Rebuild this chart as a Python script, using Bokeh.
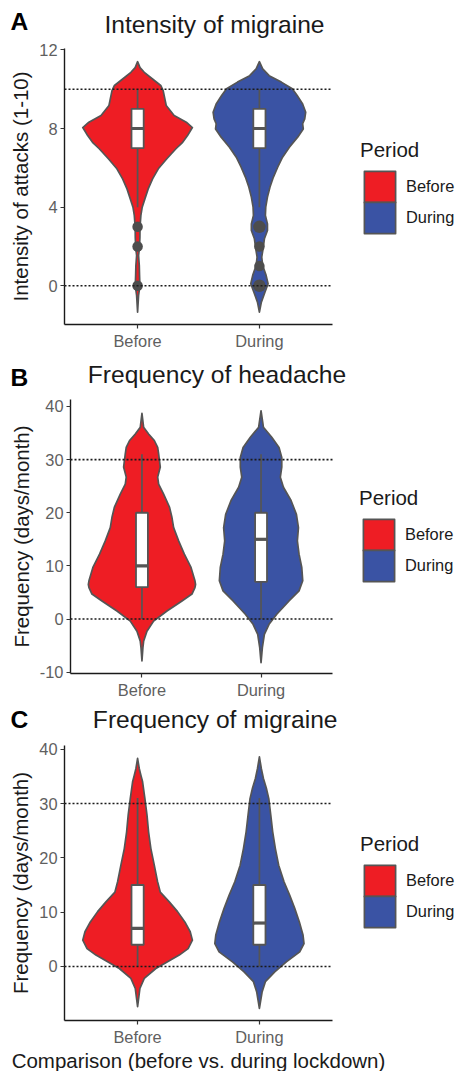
from bokeh.plotting import figure
from bokeh.models import Range1d, FixedTicker, Label, Legend, LegendItem
from bokeh.layouts import column
from bokeh.embed import file_html
from bokeh.resources import INLINE

FONT = "Liberation Sans"
PERIODS = ["Before", "During"]
PERIOD_POS = [1, 2]
COLORS = ["#EE1D24", "#3A53A4"]
LEGEND_TITLE = "Period"
XLIM = [0.4, 2.6]

# ---------------- Panel A: Intensity of migraine ----------------
A_title = "Intensity of migraine"
A_ylabel = "Intensity of attacks (1-10)"
A_ylim = [-1.99, 12.07]
A_yticks = [0, 4, 8, 12]
A_reflines = [0, 10]
A_before_v = [-1.34, -0.49, 0.0, 0.53, 1.03, 1.54, 1.97, 2.47, 3.0, 3.58, 4.0, 4.42, 4.93, 5.44,
              5.95, 6.46, 6.97, 7.3, 7.64, 8.05, 8.32, 8.66, 9.17, 9.93, 10.19, 10.53, 10.86, 11.1, 11.4]
A_before_hw = [0.0, 0.008, 0.019, 0.016, 0.014, 0.008, 0.016, 0.019, 0.02, 0.027, 0.038, 0.06, 0.087, 0.123,
               0.17, 0.24, 0.315, 0.37, 0.41, 0.45, 0.40, 0.30, 0.235, 0.21, 0.19, 0.12, 0.055, 0.02, 0.0]
A_during_v = [-1.34, -0.83, -0.32, 0.1, 0.53, 1.03, 1.46, 1.88, 2.39, 2.81, 3.15, 3.58, 4.0, 4.51, 5.02,
              5.53, 6.03, 6.54, 7.05, 7.56, 7.98, 8.24, 8.49, 8.83, 9.25, 9.68, 10.02, 10.36, 10.69, 11.03, 11.4]
A_during_hw = [0.0, 0.016, 0.046, 0.071, 0.055, 0.027, 0.019, 0.03, 0.041, 0.066, 0.066, 0.049, 0.052, 0.066, 0.087,
               0.115, 0.15, 0.19, 0.246, 0.314, 0.36, 0.355, 0.372, 0.38, 0.355, 0.31, 0.27, 0.18, 0.08, 0.027, 0.0]
A_q1 = [7, 7]
A_med = [8, 8]
A_q3 = [9, 9]
A_wlo = [4, 4]
A_whi = [10, 10]
A_out_x = [1, 1, 1, 2, 2, 2, 2]
A_out_y = [3, 2, 0, 3, 2, 1, 0]
A_out_n = [1, 1, 1, 2, 1, 1, 2]

# ---------------- Panel B: Frequency of headache ----------------
B_title = "Frequency of headache"
B_ylabel = "Frequency (days/month)"
B_ylim = [-10.31, 41.26]
B_yticks = [-10, 0, 10, 20, 30, 40]
B_reflines = [0, 30]
B_before_v = [-7.9, -5.4, -4.2, -2.3, -0.4, 1.5, 3.4, 4.7, 5.9, 6.5, 7.2, 9.7, 12.2, 14.7, 17.2, 19.1,
              21.0, 23.5, 25.4, 26.7, 28.6, 31.1, 32.3, 33.6, 34.8, 36.1, 38.7]
B_before_hw = [0.0, 0.008, 0.014, 0.042, 0.098, 0.21, 0.336, 0.42, 0.445, 0.45, 0.445, 0.412, 0.356, 0.308, 0.266, 0.252,
               0.232, 0.182, 0.14, 0.132, 0.154, 0.14, 0.132, 0.104, 0.056, 0.014, 0.0]
B_during_v = [-8.2, -5.4, -2.9, -1.0, 0.9, 3.4, 5.3, 7.2, 9.7, 12.2, 14.7, 17.2, 19.7, 22.3, 24.8,
              26.7, 28.6, 30.4, 32.3, 34.2, 36.1, 39.2]
B_during_hw = [0.0, 0.011, 0.028, 0.067, 0.132, 0.235, 0.319, 0.35, 0.342, 0.319, 0.305, 0.314, 0.297, 0.252, 0.188,
               0.162, 0.174, 0.174, 0.151, 0.09, 0.02, 0.0]
B_q1 = [6, 7]
B_med = [10, 15]
B_q3 = [20, 20]
B_wlo = [0, 0]
B_whi = [31, 31]

# ---------------- Panel C: Frequency of migraine ----------------
C_title = "Frequency of migraine"
C_ylabel = "Frequency (days/month)"
C_xlabel = "Comparison (before vs. during lockdown)"
C_ylim = [-9.94, 40.68]
C_yticks = [0, 10, 20, 30, 40]
C_reflines = [0, 30]
C_before_v = [-7.4, -4.05, -2.2, -0.37, 0.86, 2.1, 3.3, 4.85, 6.4, 8.2, 10.1, 11.9, 13.7, 15.6, 18.65,
              21.7, 24.8, 27.9, 30.9, 34.0, 35.2, 36.4, 38.3]
C_before_hw = [0.0, 0.019, 0.055, 0.15, 0.246, 0.342, 0.415, 0.45, 0.432, 0.388, 0.328, 0.26, 0.186, 0.164, 0.137,
               0.109, 0.09, 0.077, 0.06, 0.041, 0.027, 0.014, 0.0]
C_during_v = [-7.7, -4.7, -2.8, -1.0, 0.86, 2.7, 4.2, 5.8, 8.2, 10.7, 13.1, 15.6, 18.65, 21.7, 24.8,
              27.9, 30.9, 32.8, 34.6, 36.4, 38.6]
C_during_hw = [0.0, 0.022, 0.049, 0.126, 0.221, 0.331, 0.366, 0.358, 0.328, 0.29, 0.249, 0.202, 0.158, 0.131, 0.109,
               0.093, 0.077, 0.057, 0.033, 0.016, 0.0]
C_q1 = [4, 4]
C_med = [7, 8]
C_q3 = [15, 15]
C_wlo = [0, 0]
C_whi = [31, 31]

# ---------------- styling / layout (pixels) ----------------
OUTLINE = "#555555"
TICK_COL = "#5f5f5f"
TEXT_COL = "#1a1a1a"
FIG_W = 457
KEY = 31          # legend key size (px)
KEY_BOX = 39      # glyph box; bokeh insets area glyphs by 10% on each side


def violin_xy(center, v, hw):
    xs = [center - h for h in hw] + [center + h for h in reversed(hw)]
    ys = list(v) + list(reversed(v))
    return xs, ys


def make_legend(items, x, y_bottom, title=None):
    kw = dict(location=(x, y_bottom),
              label_text_font=FONT, label_text_font_size="16.4px", label_text_color=TEXT_COL,
              glyph_width=KEY_BOX, glyph_height=KEY_BOX, spacing=0, label_standoff=7,
              padding=0, margin=0, border_line_color=None, background_fill_alpha=0)
    if title:
        kw.update(title=title, title_text_font=FONT, title_text_font_size="20.5px",
                  title_text_font_style="normal", title_text_color=TEXT_COL, title_standoff=5)
    return Legend(items=items, **kw)


def make_panel(H, box, ylim, yticks, ylabel, title, letter, title_px, letter_px,
               violins, q1, med, q3, wlo, whi, reflines, key_px, xlabel=None,
               out_x=None, out_y=None, out_n=None):
    # box: panel rectangle in figure pixels (left, right, top, bottom)
    left, right, top, bottom = box
    kx = (right - left) / (XLIM[1] - XLIM[0])
    ky = (bottom - top) / (ylim[1] - ylim[0])
    xr = Range1d(XLIM[0] - left / kx, XLIM[0] + (FIG_W - left) / kx)
    yr = Range1d(ylim[0] - (H - bottom) / ky, ylim[1] + top / ky)

    p = figure(width=FIG_W, height=H, x_range=xr, y_range=yr,
               output_backend="svg", toolbar_location=None, min_border=0,
               min_border_left=0, min_border_right=0, min_border_top=0, min_border_bottom=0)
    p.outline_line_color = None
    p.xgrid.visible = False
    p.ygrid.visible = False
    p.background_fill_color = "white"
    p.border_fill_color = "white"

    renderers = []
    for (v, hw), pos, col in zip(violins, PERIOD_POS, COLORS):
        xs, ys = violin_xy(pos, v, hw)
        r = p.patch(xs, ys, fill_color=col, line_color=OUTLINE, line_width=1.7, line_join="round")
        renderers.append(r)

    # whiskers
    p.segment(x0=PERIOD_POS, y0=q3, x1=PERIOD_POS, y1=whi, line_color=OUTLINE, line_width=1.7)
    p.segment(x0=PERIOD_POS, y0=wlo, x1=PERIOD_POS, y1=q1, line_color=OUTLINE, line_width=1.7)
    # boxes
    p.vbar(x=PERIOD_POS, bottom=q1, top=q3, width=0.1, fill_color="white",
           line_color=OUTLINE, line_width=1.8)
    p.segment(x0=[x - 0.05 for x in PERIOD_POS], y0=med, x1=[x + 0.05 for x in PERIOD_POS], y1=med,
              line_color=OUTLINE, line_width=3.2)
    if out_x is not None:
        sizes = [10.5 if n == 1 else 12.5 for n in out_n]
        p.scatter(x=out_x, y=out_y, size=sizes, fill_color="#4d4d4d", line_color=None)

    # reference lines across the panel
    p.segment(x0=[XLIM[0]] * len(reflines), x1=[XLIM[1]] * len(reflines), y0=reflines, y1=reflines,
              line_color=TEXT_COL, line_dash="2 2", line_width=1.6)

    # axes drawn at the panel edges
    for ax in (p.xaxis[0], p.yaxis[0]):
        ax.axis_line_color = "#1a1a1a"
        ax.axis_line_width = 1.4
        ax.major_tick_line_color = "#333333"
        ax.major_tick_line_width = 1.2
        ax.major_tick_out = 4
        ax.major_tick_in = 0
        ax.minor_tick_line_color = None
        ax.major_label_text_font = FONT
        ax.major_label_text_font_size = "16.4px"
        ax.major_label_text_color = TICK_COL
        ax.axis_label_text_font = FONT
        ax.axis_label_text_font_size = "20.5px"
        ax.axis_label_text_font_style = "normal"
        ax.axis_label_text_color = TEXT_COL

    p.xaxis.fixed_location = ylim[0]
    p.xaxis.bounds = (XLIM[0], XLIM[1])
    p.xaxis.ticker = FixedTicker(ticks=PERIOD_POS)
    p.xaxis.major_label_overrides = {pos: lab for pos, lab in zip(PERIOD_POS, PERIODS)}
    p.xaxis.major_label_standoff = 3
    if xlabel:
        p.xaxis.axis_label = xlabel
        p.xaxis.axis_label_standoff = 0

    p.yaxis.fixed_location = XLIM[0]
    p.yaxis.bounds = (ylim[0], ylim[1])
    p.yaxis.ticker = FixedTicker(ticks=yticks)
    p.yaxis.major_label_overrides = {t: str(t) for t in yticks}
    p.yaxis.major_label_standoff = 3
    p.yaxis.axis_label = ylabel
    p.yaxis.axis_label_standoff = 4

    # titles (positions in figure pixels, measured from the top-left)
    p.add_layout(Label(x=title_px[0], y=H - title_px[1], x_units="screen", y_units="screen",
                       text=title, text_font=FONT, text_font_size="24.6px", text_color=TEXT_COL,
                       text_align="center", text_baseline="alphabetic"))
    p.add_layout(Label(x=letter_px[0], y=H - letter_px[1], x_units="screen", y_units="screen",
                       text=letter, text_font=FONT, text_font_size="24.6px", text_font_style="bold",
                       text_color="black", text_align="left", text_baseline="alphabetic"))

    # legend: two stacked pieces so that the keys touch, as in the reference
    kx0, ktop = key_px          # top-left of the first key square
    inset = (KEY_BOX - KEY) / 2
    box_left = kx0 - inset
    first_bottom = ktop - inset + KEY_BOX
    second_bottom = first_bottom + KEY
    p.add_layout(make_legend([LegendItem(label=PERIODS[0], renderers=[renderers[0]])],
                             box_left, H - first_bottom, title=LEGEND_TITLE))
    p.add_layout(make_legend([LegendItem(label=PERIODS[1], renderers=[renderers[1]])],
                             box_left, H - second_bottom))
    return p


# figure A: page rows 0-352, B: 352-702, C: 702-1071
pA = make_panel(352, (64, 332, 48, 324.4), A_ylim, A_yticks, A_ylabel, A_title, "A",
                (214, 24.3), (10, 21),
                [(A_before_v, A_before_hw), (A_during_v, A_during_hw)],
                A_q1, A_med, A_q3, A_wlo, A_whi, A_reflines, (364, 170.7),
                out_x=A_out_x, out_y=A_out_y, out_n=A_out_n)
pB = make_panel(350, (70, 332, 47.3, 321.3), B_ylim, B_yticks, B_ylabel, B_title, "B",
                (216.5, 22.3), (10, 25),
                [(B_before_v, B_before_hw), (B_during_v, B_during_hw)],
                B_q1, B_med, B_q3, B_wlo, B_whi, B_reflines, (363, 167))
pC = make_panel(369, (64, 332, 43, 318), C_ylim, C_yticks, C_ylabel, C_title, "C",
                (214.7, 17.3), (10, 17.3),
                [(C_before_v, C_before_hw), (C_during_v, C_during_hw)],
                C_q1, C_med, C_q3, C_wlo, C_whi, C_reflines, (364, 163), xlabel=C_xlabel)

layout = column(pA, pB, pC, spacing=0)
open("out.html", "w").write(file_html(layout, INLINE))
